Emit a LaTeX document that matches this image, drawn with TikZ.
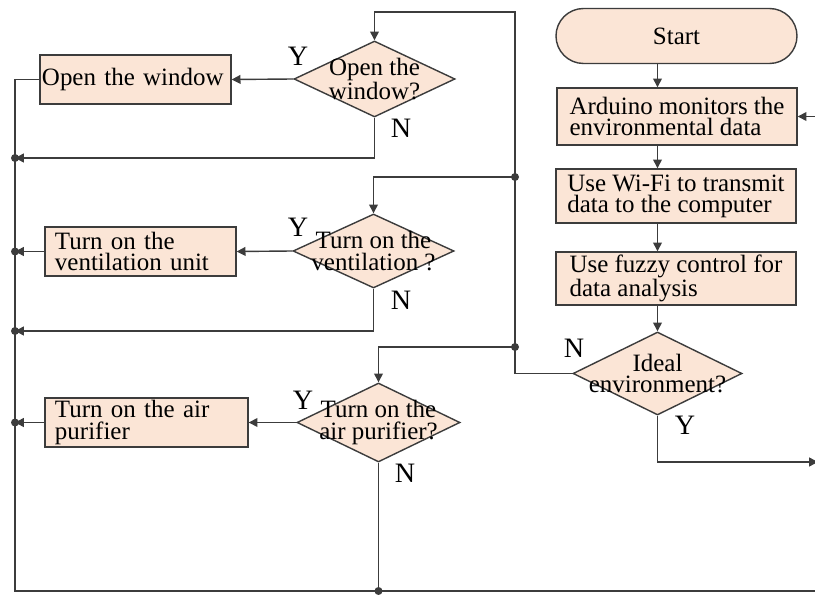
\documentclass[tikz,border=0pt]{standalone}
\usepackage{fontspec}
\setmainfont{Liberation Serif}
\usetikzlibrary{shapes.geometric,arrows.meta}
\definecolor{boxfill}{HTML}{FBE5D6}
\definecolor{linecol}{HTML}{3C3C3C}

\begin{document}
\begin{tikzpicture}[
    color=linecol, line width=0.8pt,
    every node/.style={text=black, font=\fontsize{14.2}{12}\selectfont},
    term/.style={draw, fill=boxfill, rounded corners=0.55cm, minimum width=4.82cm, minimum height=1.1cm},
    proc/.style={draw, fill=boxfill, align=left, minimum width=4.8cm, inner sep=0pt},
    act/.style={draw, fill=boxfill, align=left, inner xsep=0.2cm, inner ysep=0pt, minimum height=0.98cm},
    dec/.style={draw, fill=boxfill, diamond, inner sep=0pt},
    yn/.style={font=\fontsize{16}{16}\selectfont},
    arr/.style={-{Triangle[length=5pt,width=5pt]}}
  ]
  \useasboundingbox[fill=white] (0,0) rectangle (16.3,-11.9);

  \node[term] (start) at (13.53,-0.72) {Start};
  \node[proc, minimum height=1.14cm] (ard) at (13.54,-2.33) {Arduino monitors the\\environmental data};
  \node[proc, minimum height=1.08cm] (wifi) at (13.52,-3.92) {Use Wi-Fi to transmit\\data to the computer};
  \node[proc, minimum height=1.06cm] (fuzzy) at (13.52,-5.57) {Use fuzzy control for\\data analysis};
  \node[dec, minimum width=3.38cm, minimum height=1.66cm,
        label={[align=center]center:Ideal\\environment?}] (ideal) at (13.15,-7.47) {};

  \node[dec, minimum width=3.22cm, minimum height=1.52cm,
        label={[align=center]center:Open the\\window?}] (qwin) at (7.49,-1.58) {};
  \node[dec, minimum width=3.22cm, minimum height=1.48cm,
        label={[align=center]center:Turn on the\\ventilation ?}] (qvent) at (7.47,-5.02) {};
  \node[dec, minimum width=3.26cm, minimum height=1.58cm,
        label={[align=center]center:Turn on the\\air purifier?}] (qpur) at (7.57,-8.45) {};

  \node[act, text width=3.74cm, inner xsep=0.04cm] (win) at (2.71,-1.59) {Open the window};
  \node[act, text width=3.42cm] (vent) at (2.81,-5.03) {Turn on the\\ventilation unit};
  \node[act, text width=3.66cm] (pur) at (2.93,-8.45) {Turn on the air\\purifier};

  \coordinate (bl) at (0.3,-11.82);
  \coordinate (br) at (16.36,-11.82);
  \coordinate (b1) at (10.3,-3.54);
  \coordinate (b2) at (10.3,-6.94);
  \coordinate (n1) at (0.3,-3.16);
  \coordinate (n2) at (0.3,-6.62);
  \coordinate (ye) at (16.36,-9.24);

  \draw[arr] (start.south -| ideal) -- (ard.north -| ideal);
  \draw[arr] (ard.south -| ideal) -- (wifi.north -| ideal);
  \draw[arr] (wifi.south -| ideal) -- (fuzzy.north -| ideal);
  \draw[arr] (fuzzy.south -| ideal) -- (ideal.north);
  \draw[arr] (ideal.west) -| (10.3,-0.24) -| (qwin.north);
  \draw[arr] (b1) -| (qvent.north);
  \draw[arr] (b2) -| (qpur.north);
  \draw[arr] (ideal.south) |- (ye);

  \draw[arr] (qwin.west) -- (win.east);
  \draw[arr] (qvent.west) -- (vent.east);
  \draw[arr] (qpur.west) -- (pur.east);

  \draw[arr] (win.west) -| (bl) -- (br) |- (ard.east);
  \draw[arr] (qwin.south) |- (n1);
  \draw[arr] (qvent.south) |- (n2);
  \draw[arr] (vent.west) -- (vent.west -| bl);
  \draw[arr] (pur.west) -- (pur.west -| bl);
  \draw (qpur.south) -- (qpur.south |- bl);

  \foreach \p in {b1,b2,n1,n2,vent.west -| bl,pur.west -| bl,qpur.south |- bl}
    \fill (\p) circle (0.08);

  \node[yn] (yw) at (5.96,-1.12) {Y};
  \node[yn] (nw) at (8.02,-2.56) {N};
  \node[yn] (yv) at (5.96,-4.54) {Y};
  \node[yn] (nv) at (8.02,-6.0) {N};
  \node[yn] (yp) at (6.06,-8.0) {Y};
  \node[yn] (np) at (8.1,-9.46) {N};
  \node[yn] (ni) at (11.48,-6.96) {N};
  \node[yn] (yi) at (13.7,-8.5) {Y};
\end{tikzpicture}
\end{document}
